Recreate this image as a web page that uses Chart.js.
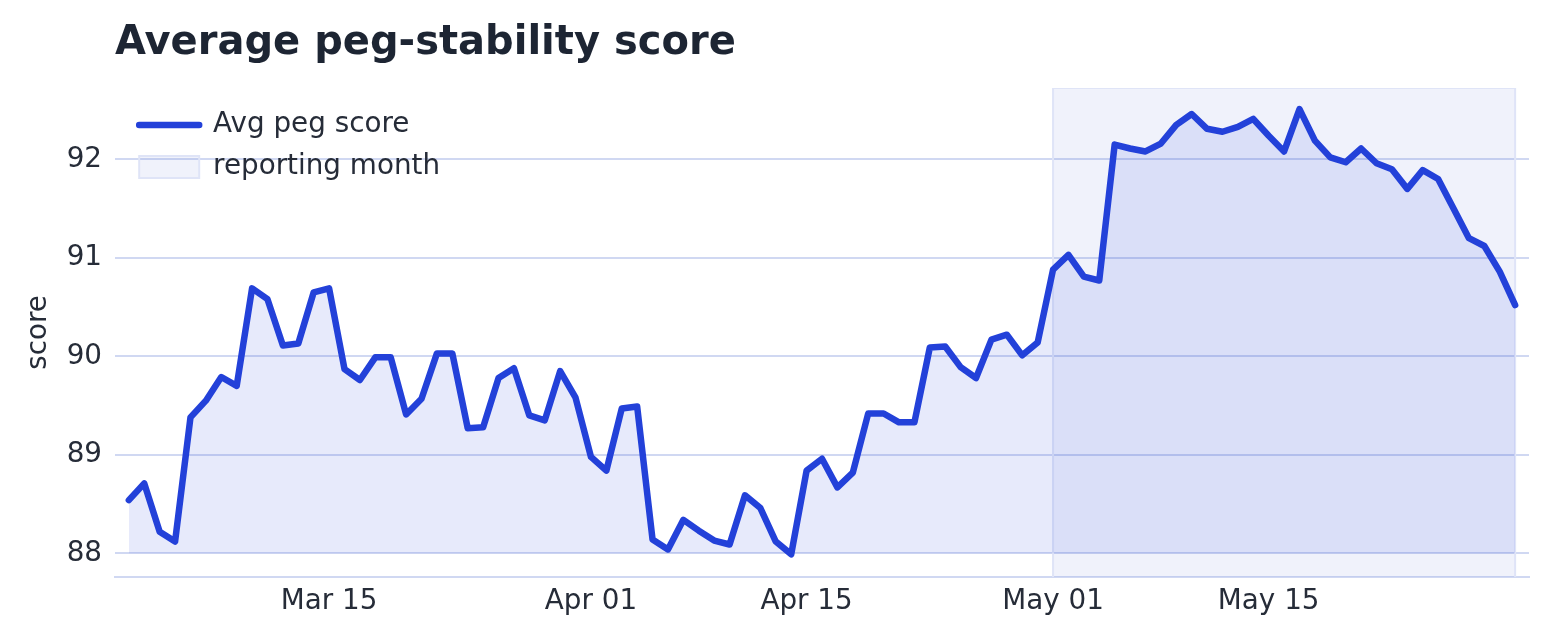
<!DOCTYPE html>
<html>
<head>
<meta charset="utf-8">
<script src="https://cdn.jsdelivr.net/npm/chart.js@4.4.1/dist/chart.umd.min.js"></script>
<style>
  html, body { margin: 0; padding: 0; background: #ffffff; }
  #wrap { width: 1552px; height: 641px; }
</style>
</head>
<body>
<div id="wrap"><canvas id="myChart" width="1552" height="641"></canvas></div>
<script>
// daily values, Mar 02 (day 0) .. May 31 (day 90)
const scores = [
  88.54, 88.71, 88.22, 88.12, 89.38, 89.55, 89.79, 89.70, 90.69, 90.58,
  90.11, 90.13, 90.65, 90.69, 89.87, 89.76, 89.99, 89.99, 89.41, 89.57,
  90.03, 90.03, 89.27, 89.28, 89.78, 89.88, 89.40, 89.35, 89.85, 89.58,
  88.98, 88.84, 89.47, 89.49, 88.14, 88.04, 88.34, 88.23, 88.13, 88.09,
  88.59, 88.46, 88.12, 87.99, 88.84, 88.96, 88.67, 88.82, 89.42, 89.42,
  89.33, 89.33, 90.09, 90.10, 89.89, 89.78, 90.17, 90.22, 90.01, 90.14,
  90.88, 91.03, 90.81, 90.77, 92.15, 92.11, 92.08, 92.16, 92.35, 92.46,
  92.31, 92.28, 92.33, 92.41, 92.24, 92.08, 92.51, 92.19, 92.02, 91.97,
  92.11, 91.96, 91.90, 91.70, 91.89, 91.80, 91.50, 91.20, 91.12, 90.86,
  90.52
];
const baseline = 88;

// reporting month: May 01 .. May 31 (day index)
const reportDays = [60, 90];

const xTickDays = [13, 30, 44, 60, 74];
const xTickLabels = ['Mar 15', 'Apr 01', 'Apr 15', 'May 01', 'May 15'];
const yTicks = [88, 89, 90, 91, 92];

const yMin = 87.76;
const yMax = 92.724;

const blue = '#2341d9';
const gridColor = '#d0d8f2';
const textColor = '#262c38';
const spanFill = 'rgba(70, 95, 200, 0.08)';
const spanEdge = '#dfe4f7';

Chart.defaults.font.family = "'DejaVu Sans', sans-serif";

// put the legend inside the plot, top-left
const legendInPlot = {
  id: 'legendInPlot',
  afterLayout(chart) {
    const lg = chart.legend;
    const area = chart.chartArea;
    lg.left = area.left + 10;
    lg.top = area.top + 9;
    lg.right = lg.left + lg.width;
    lg.bottom = lg.top + lg.height;
  }
};

const renderChart = () => {
  const ctx = document.getElementById('myChart').getContext('2d');
  new Chart(ctx, {
    type: 'line',
    data: {
      datasets: [
        {
          label: 'Avg peg score',
          data: scores.map((v, i) => ({ x: i, y: v })),
          borderColor: blue,
          borderWidth: 6.5,
          borderCapStyle: 'round',
          borderJoinStyle: 'round',
          backgroundColor: 'rgba(35, 65, 217, 0.11)',
          fill: { value: baseline },
          tension: 0,
          pointRadius: 0,
          pointHoverRadius: 0,
          pointStyle: 'line',
          pointBorderColor: blue,
          pointBorderWidth: 6.5,
          order: 0,
        },
        {
          label: 'reporting month',
          data: [
            { x: reportDays[0], y: yMin },
            { x: reportDays[0], y: yMax },
            { x: reportDays[1], y: yMax },
            { x: reportDays[1], y: yMin },
          ],
          borderColor: spanEdge,
          borderWidth: 2,
          backgroundColor: spanFill,
          fill: 'start',
          tension: 0,
          pointRadius: 0,
          pointHoverRadius: 0,
          pointStyle: 'rect',
          pointBackgroundColor: spanFill,
          pointBorderColor: spanEdge,
          pointBorderWidth: 2,
          order: 1,
        },
      ],
    },
    options: {
      responsive: false,
      animation: false,
      events: [],
      layout: { padding: { left: 0, right: 23, top: 0, bottom: 0 } },
      scales: {
        x: {
          type: 'linear',
          min: -0.9,
          max: 90.9,
          afterFit: (scale) => { scale.height = 64; },
          afterBuildTicks: (scale) => {
            scale.ticks = xTickDays.map((d) => ({ value: d }));
          },
          grid: { display: false, drawTicks: false },
          border: { display: true, color: gridColor, width: 2 },
          ticks: {
            autoSkip: false,
            maxRotation: 0,
            padding: 8,
            color: textColor,
            font: { size: 27.8 },
            callback: (value) => xTickLabels[xTickDays.indexOf(value)],
          },
        },
        y: {
          min: yMin,
          max: yMax,
          afterFit: (scale) => { scale.width = 115; },
          afterBuildTicks: (scale) => {
            scale.ticks = yTicks.map((v) => ({ value: v }));
          },
          grid: { color: gridColor, lineWidth: 2, drawTicks: false },
          border: { display: false },
          ticks: {
            padding: 13,
            color: textColor,
            font: { size: 27.8 },
          },
          title: {
            display: true,
            text: 'score',
            color: textColor,
            font: { size: 27.8 },
            padding: { top: 22, bottom: 0 },
          },
        },
      },
      plugins: {
        title: {
          display: true,
          text: 'Average peg-stability score',
          align: 'start',
          fullSize: false,
          color: '#1d2533',
          font: { size: 40, weight: 'bold' },
          padding: { top: 20, bottom: 20 },
        },
        legend: {
          position: 'chartArea',
          align: 'start',
          labels: {
            usePointStyle: true,
            pointStyleWidth: 60,
            boxHeight: 22,
            padding: 14.2,
            color: textColor,
            font: { size: 27.8 },
            generateLabels: (chart) => {
              const items = Chart.defaults.plugins.legend.labels.generateLabels(chart);
              items.forEach((it) => {
                if (it.pointStyle === 'line') it.lineCap = 'round';
              });
              return items;
            },
          },
        },
        tooltip: { enabled: false },
      },
    },
    plugins: [legendInPlot],
  });
};

document.addEventListener('DOMContentLoaded', renderChart);
</script>
</body>
</html>
